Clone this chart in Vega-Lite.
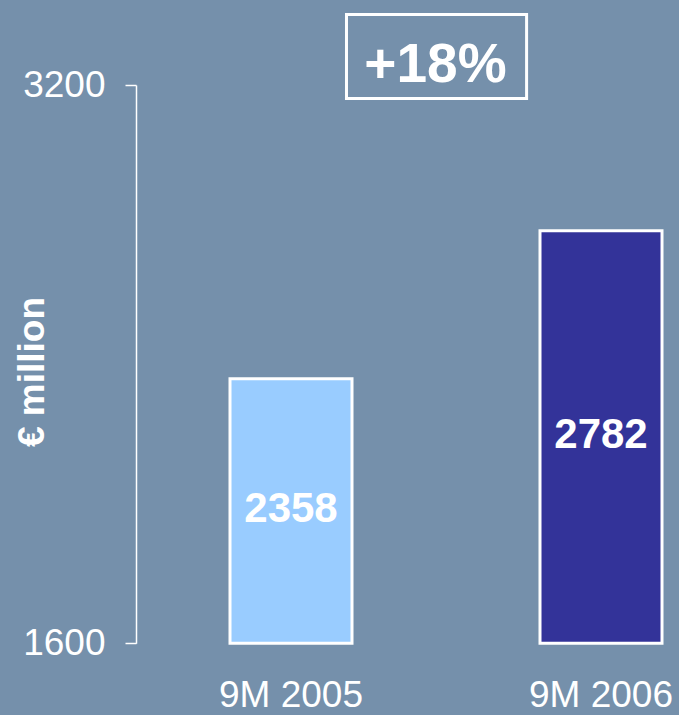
{
  "$schema": "https://vega.github.io/schema/vega-lite/v6.json",
  "autosize": "none",
  "width": 543,
  "height": 558.3,
  "padding": {"left": 136, "top": 85, "right": 0, "bottom": 71.7},
  "background": "#7590AB",
  "config": {"view": {"stroke": null}, "font": "Liberation Sans"},
  "datasets": {
    "sales": [
      {"period": "9M 2005", "value": 2358},
      {"period": "9M 2006", "value": 2782}
    ],
    "growth": [
      {"from": "9M 2005", "to": "9M 2006", "label": "+18%"}
    ]
  },
  "resolve": {"scale": {"y": "independent"}},
  "layer": [
    {
      "data": {"name": "sales"},
      "mark": {"type": "bar", "size": 122, "stroke": "white", "strokeWidth": 3},
      "encoding": {
        "x": {
          "field": "period", "type": "nominal", "sort": null,
          "scale": {"range": [0, 620], "paddingInner": 0, "paddingOuter": 0},
          "axis": {"title": null, "domain": false, "ticks": false, "labelAngle": 0,
                   "labelFontSize": 37, "labelColor": "white", "labelPadding": 34,
                   "labelBaseline": "top"}
        },
        "y": {
          "field": "value", "type": "quantitative",
          "scale": {"domain": [1600, 3200], "zero": false, "nice": false},
          "axis": {"values": [1600, 3200], "format": "d", "grid": false, "domainColor": "white", "domainWidth": 1.5,
                   "tickColor": "white", "tickSize": 11, "tickWidth": 1.5,
                   "labelColor": "white", "labelFontSize": 37, "labelPadding": 20,
                   "title": "€ million", "titleColor": "white", "titleFontSize": 37,
                   "titleFontWeight": "bold", "titleAngle": -90, "titleX": -93, "titleY": 286.5,
                   "titleAlign": "center", "titleBaseline": "alphabetic"}
        },
        "y2": {"datum": 1600},
        "color": {"field": "period", "type": "nominal", "scale": {"range": ["#99CCFF", "#333399"]}, "legend": null}
      }
    },
    {
      "data": {"name": "sales"},
      "mark": {"type": "text", "fontSize": 42, "fontWeight": "bold", "color": "white", "baseline": "middle", "align": "center", "dy": -2},
      "encoding": {
        "x": {"field": "period", "type": "nominal", "sort": null},
        "y": {"field": "value", "type": "quantitative", "scale": {"domain": [1600, 4800], "zero": false, "nice": false}, "axis": null},
        "text": {"field": "value", "type": "quantitative", "format": "d"}
      }
    },
    {
      "data": {"name": "growth"},
      "mark": {"type": "rect", "fillOpacity": 0, "stroke": "white", "strokeWidth": 3},
      "encoding": {
        "x": {"field": "from", "type": "nominal", "bandPosition": 0.679},
        "x2": {"field": "to", "bandPosition": 0.26},
        "y": {"datum": 3161, "type": "quantitative", "scale": {"domain": [1600, 3200], "zero": false, "nice": false}, "axis": null},
        "y2": {"datum": 3402}
      }
    },
    {
      "data": {"name": "growth"},
      "mark": {"type": "text", "fontSize": 55, "fontWeight": "bold", "color": "white", "baseline": "alphabetic", "align": "center"},
      "encoding": {
        "x": {"field": "from", "type": "nominal", "bandPosition": 0.966},
        "y": {"datum": 3209, "type": "quantitative", "scale": {"domain": [1600, 3200], "zero": false, "nice": false}, "axis": null},
        "text": {"field": "label", "type": "nominal"}
      }
    }
  ]
}
